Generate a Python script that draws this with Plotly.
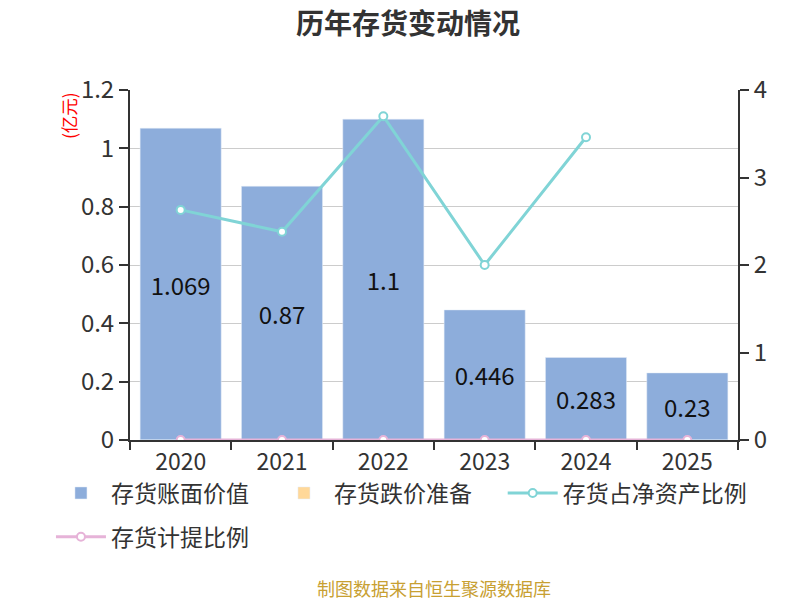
import plotly.graph_objects as go

years = ['2020', '2021', '2022', '2023', '2024', '2025']
book_value = [1.069, 0.87, 1.1, 0.446, 0.283, 0.23]
impairment = [0, 0, 0, 0, 0, 0]
net_asset_ratio = [2.63, 2.38, 3.70, 2.0, 3.46, None]
provision_ratio = [0, 0, 0, 0, 0, 0]

FONT = 'Noto Sans CJK SC'
AXIS = '#333333'

fig = go.Figure()
fig.add_trace(go.Bar(
    x=years, y=book_value, name='存货账面价值',
    marker_color='#8daddb',
    text=[str(v) for v in book_value], textposition='inside',
    insidetextanchor='middle',
    textfont=dict(size=24, color='#111111', family=FONT),
    width=0.8,
))
fig.add_trace(go.Bar(
    x=years, y=impairment, name='存货跌价准备',
    marker_color='#ffd899', width=0.8,
))
fig.add_trace(go.Scatter(
    x=years, y=net_asset_ratio, name='存货占净资产比例', yaxis='y2',
    mode='lines+markers', legend='legend2',
    line=dict(color='#80d4d6', width=3),
    marker=dict(size=8, color='white', line=dict(color='#80d4d6', width=2)),
))
fig.add_trace(go.Scatter(
    x=years, y=provision_ratio, name='存货计提比例', yaxis='y2',
    mode='lines+markers', legend='legend3',
    line=dict(color='#e6b3d8', width=3),
    marker=dict(size=8, color='white', line=dict(color='#e6b3d8', width=2)),
))

legend_style = dict(
    orientation='h', xanchor='left', yanchor='top',
    font=dict(size=23, color=AXIS), itemwidth=50,
    bgcolor='rgba(0,0,0,0)',
)

fig.update_layout(
    width=800, height=600,
    plot_bgcolor='white', paper_bgcolor='white',
    margin=dict(l=122, r=70, t=82, b=168),
    barmode='overlay',
    font=dict(family=FONT, color=AXIS, size=22),
    title=dict(text='<b>历年存货变动情况</b>', x=0.5, y=1, yref='container',
               xanchor='center', yanchor='top', pad=dict(t=6),
               font=dict(size=28, color=AXIS, family=FONT)),
    xaxis=dict(
        showline=True, linecolor=AXIS, linewidth=2,
        ticks='outside', ticklen=8, tickcolor=AXIS, tickwidth=2,
        tickson='boundaries', tickfont=dict(size=23),
    ),
    yaxis=dict(
        range=[0, 1.2], dtick=0.2, showgrid=True, gridcolor='#cccccc',
        showline=True, linecolor=AXIS, linewidth=2,
        ticks='outside', ticklen=9, tickcolor=AXIS, tickwidth=2,
        tickfont=dict(size=24), zeroline=False,
    ),
    yaxis2=dict(
        range=[0, 4], dtick=1, overlaying='y', side='right', showgrid=False,
        showline=True, linecolor=AXIS, linewidth=2,
        ticks='outside', ticklen=9, tickcolor=AXIS, tickwidth=2,
        tickfont=dict(size=24), zeroline=False,
    ),
    legend=dict(legend_style, x=-0.13, y=-0.09,
                entrywidth=158, entrywidthmode='pixels'),
    legend2=dict(legend_style, x=0.613, y=-0.09),
    legend3=dict(legend_style, x=-0.13, y=-0.215),
    showlegend=True,
)

fig.add_annotation(
    text='(亿元)', xref='paper', yref='paper', x=-0.1, y=0.926,
    textangle=-90, showarrow=False, xanchor='center', yanchor='middle',
    font=dict(size=17.5, color='red', family=FONT),
)
fig.add_annotation(
    text='制图数据来自恒生聚源数据库', xref='paper', yref='paper',
    x=0.5, y=-0.423, showarrow=False, xanchor='center', yanchor='middle',
    font=dict(size=18, color='#c8a032', family=FONT),
)

fig.write_html('out.html')
